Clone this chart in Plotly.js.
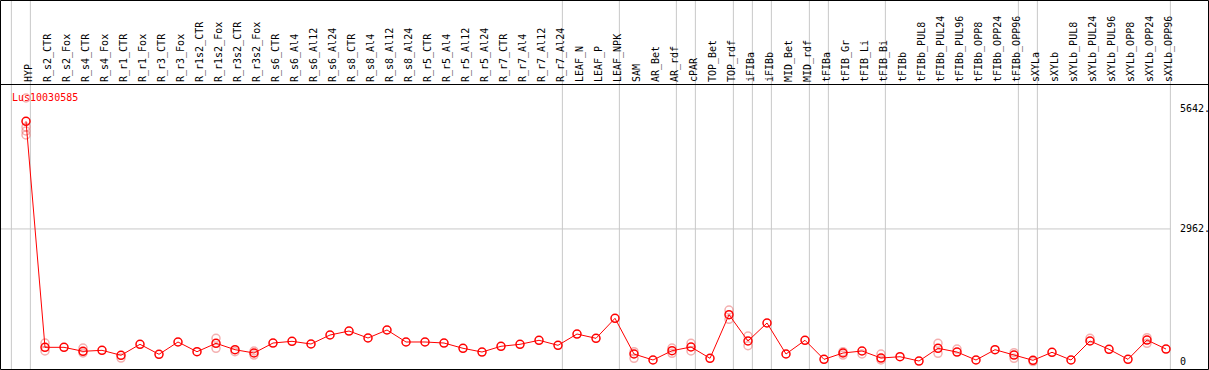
<!DOCTYPE html>
<html>
<head>
<meta charset="utf-8">
<script src="https://cdn.plot.ly/plotly-3.0.1.min.js"></script>
<style>html,body{margin:0;padding:0;background:#fff;}#chart{width:1209px;height:370px;}</style>
</head>
<body>
<div id="chart"></div>
<script>
// ---- data ----
var geneName = 'Lus10030585';
var categories = ['HYP','R_s2_CTR','R_s2_Fox','R_s4_CTR','R_s4_Fox','R_r1_CTR','R_r1_Fox','R_r3_CTR','R_r3_Fox',
  'R_r1s2_CTR','R_r1s2_Fox','R_r3s2_CTR','R_r3s2_Fox','R_s6_CTR','R_s6_Al4','R_s6_Al12','R_s6_Al24',
  'R_s8_CTR','R_s8_Al4','R_s8_Al12','R_s8_Al24','R_r5_CTR','R_r5_Al4','R_r5_Al12','R_r5_Al24',
  'R_r7_CTR','R_r7_Al4','R_r7_Al12','R_r7_Al24','LEAF_N','LEAF_P','LEAF_NPK','SAM','AR_Bet','AR_rdf',
  'cPAR','TOP_Bet','TOP_rdf','iFIBa','iFIBb','MID_Bet','MID_rdf','tFIBa','tFIB_Gr','tFIB_Li','tFIB_Bi',
  'tFIBb','tFIBb_PUL8','tFIBb_PUL24','tFIBb_PUL96','tFIBb_OPP8','tFIBb_OPP24','tFIBb_OPP96',
  'sXYLa','sXYLb','sXYLb_PUL8','sXYLb_PUL24','sXYLb_PUL96','sXYLb_OPP8','sXYLb_OPP24','sXYLb_OPP96'];
var meanValues = [5366,319,319,230,252,141,386,163,438,221,409,266,192,415,453,393,594,683,527,706,
  438,438,415,297,214,342,386,476,364,616,520,967,170,36,243,326,74,1047,460,862,170,476,51,192,237,80,
  109,13,297,214,36,266,147,29,208,36,460,275,51,482,281];
var repCategories = ['HYP','HYP','HYP','HYP','R_s2_CTR','R_s2_CTR','R_s4_CTR','R_s4_CTR','R_r1_CTR',
  'R_r1s2_Fox','R_r1s2_Fox','R_r3s2_CTR','R_r3s2_Fox','R_r3s2_Fox','SAM','SAM','AR_rdf','AR_rdf',
  'cPAR','cPAR','TOP_rdf','TOP_rdf','iFIBa','iFIBa','tFIB_Gr','tFIB_Gr','tFIB_Li','tFIB_Bi','tFIB_Bi',
  'tFIBb_PUL24','tFIBb_PUL24','tFIBb_PUL96','tFIBb_OPP96','tFIBb_OPP96','sXYLa','sXYLb_PUL24',
  'sXYLb_OPP24','sXYLb_OPP24'];
var repValues = [5886,5239,5149,5060,415,237,304,192,80,520,297,221,147,237,74,221,185,304,409,237,
  1152,945,572,355,221,147,170,170,36,409,185,281,74,199,0,520,534,409];
var yTickValues = [5642, 2962, 0];
var yTickLabels = ['5642.', '2962.', '0'];
var gridValue = 2962;
// last category of each group (group separators), plus the left edge
var groupEnds = ['HYP','R_r7_Al24','LEAF_NPK','AR_rdf','cPAR','TOP_rdf','iFIBa','iFIBb','MID_rdf',
  'tFIBa','tFIB_Bi','tFIBb_OPP96','sXYLa','sXYLb_OPP96'];

// ---- layout constants ----
var W = 1209, H = 370, T = 85, B = 1;
var plotH = H - T - B;
var xIdx = categories.map(function(c, i){ return i; });
var x0px = 26, step = 19;
var xRange = [-x0px / step, (W - x0px) / step];
var yRange = [-165, 6176];
var sepOffset = 0.23;
var mono = 'DejaVu Sans Mono, Liberation Mono, monospace';

var repX = repCategories.map(function(c){ return categories.indexOf(c); });

var traces = [
  {x: repX, y: repValues, type: 'scatter', mode: 'markers', hoverinfo: 'skip',
   marker: {symbol: 'circle-open', size: 8, color: 'rgba(235,110,110,0.55)', line: {width: 1.5}}},
  {x: xIdx, y: meanValues, type: 'scatter', mode: 'lines+markers',
   line: {color: '#ff0000', width: 1},
   marker: {symbol: 'circle-open', size: 8, color: '#ff0000', line: {width: 1.5}}}
];

var shapes = [];
var sepList = [-1].concat(groupEnds.map(function(g){ return categories.indexOf(g); }));
sepList.forEach(function(i){
  shapes.push({type: 'line', xref: 'x', yref: 'paper', x0: i + sepOffset, x1: i + sepOffset,
    y0: -B / plotH, y1: 1 + T / plotH, line: {color: '#c8c8c8', width: 1}, layer: 'below'});
});
shapes.push({type: 'line', xref: 'x', yref: 'y', x0: xRange[0], x1: categories.length - 1 + sepOffset,
  y0: gridValue, y1: gridValue, line: {color: '#c8c8c8', width: 1}, layer: 'below'});
// outer frame
shapes.push({type: 'rect', xref: 'paper', yref: 'paper', x0: 0.5 / W, x1: (W - 0.5) / W,
  y0: -(B - 0.5) / plotH, y1: 1 + (T - 0.5) / plotH, line: {color: '#000', width: 1}, fillcolor: 'rgba(0,0,0,0)'});

var annotations = [
  {xref: 'paper', yref: 'paper', x: 10 / W, y: 1 - (97.5 - T) / plotH, xanchor: 'left', yanchor: 'middle',
   text: geneName, showarrow: false, font: {family: mono, size: 10, color: '#ff0000'}}
];
yTickValues.forEach(function(v, k){
  annotations.push({xref: 'paper', yref: 'y', x: 1178 / W, y: v, xanchor: 'left', yanchor: 'middle',
    text: yTickLabels[k], showarrow: false, font: {family: mono, size: 10, color: '#000'}});
});

var layout = {
  width: W, height: H,
  margin: {l: 0, r: 0, t: T, b: B, pad: 0, autoexpand: false},
  paper_bgcolor: '#fff', plot_bgcolor: '#fff',
  showlegend: false,
  xaxis: {range: xRange, side: 'top', tickvals: xIdx, ticktext: categories, tickangle: -90,
    ticklabelshift: 3,
    tickfont: {family: mono, size: 10, color: '#000'}, ticks: '', showgrid: false, zeroline: false,
    showline: true, linecolor: '#000', linewidth: 1, fixedrange: true},
  yaxis: {range: yRange, showticklabels: false, showgrid: false, zeroline: false, showline: false, ticks: '',
    fixedrange: true},
  shapes: shapes,
  annotations: annotations
};

Plotly.newPlot('chart', traces, layout, {displayModeBar: false, staticPlot: true});
</script>
</body>
</html>
